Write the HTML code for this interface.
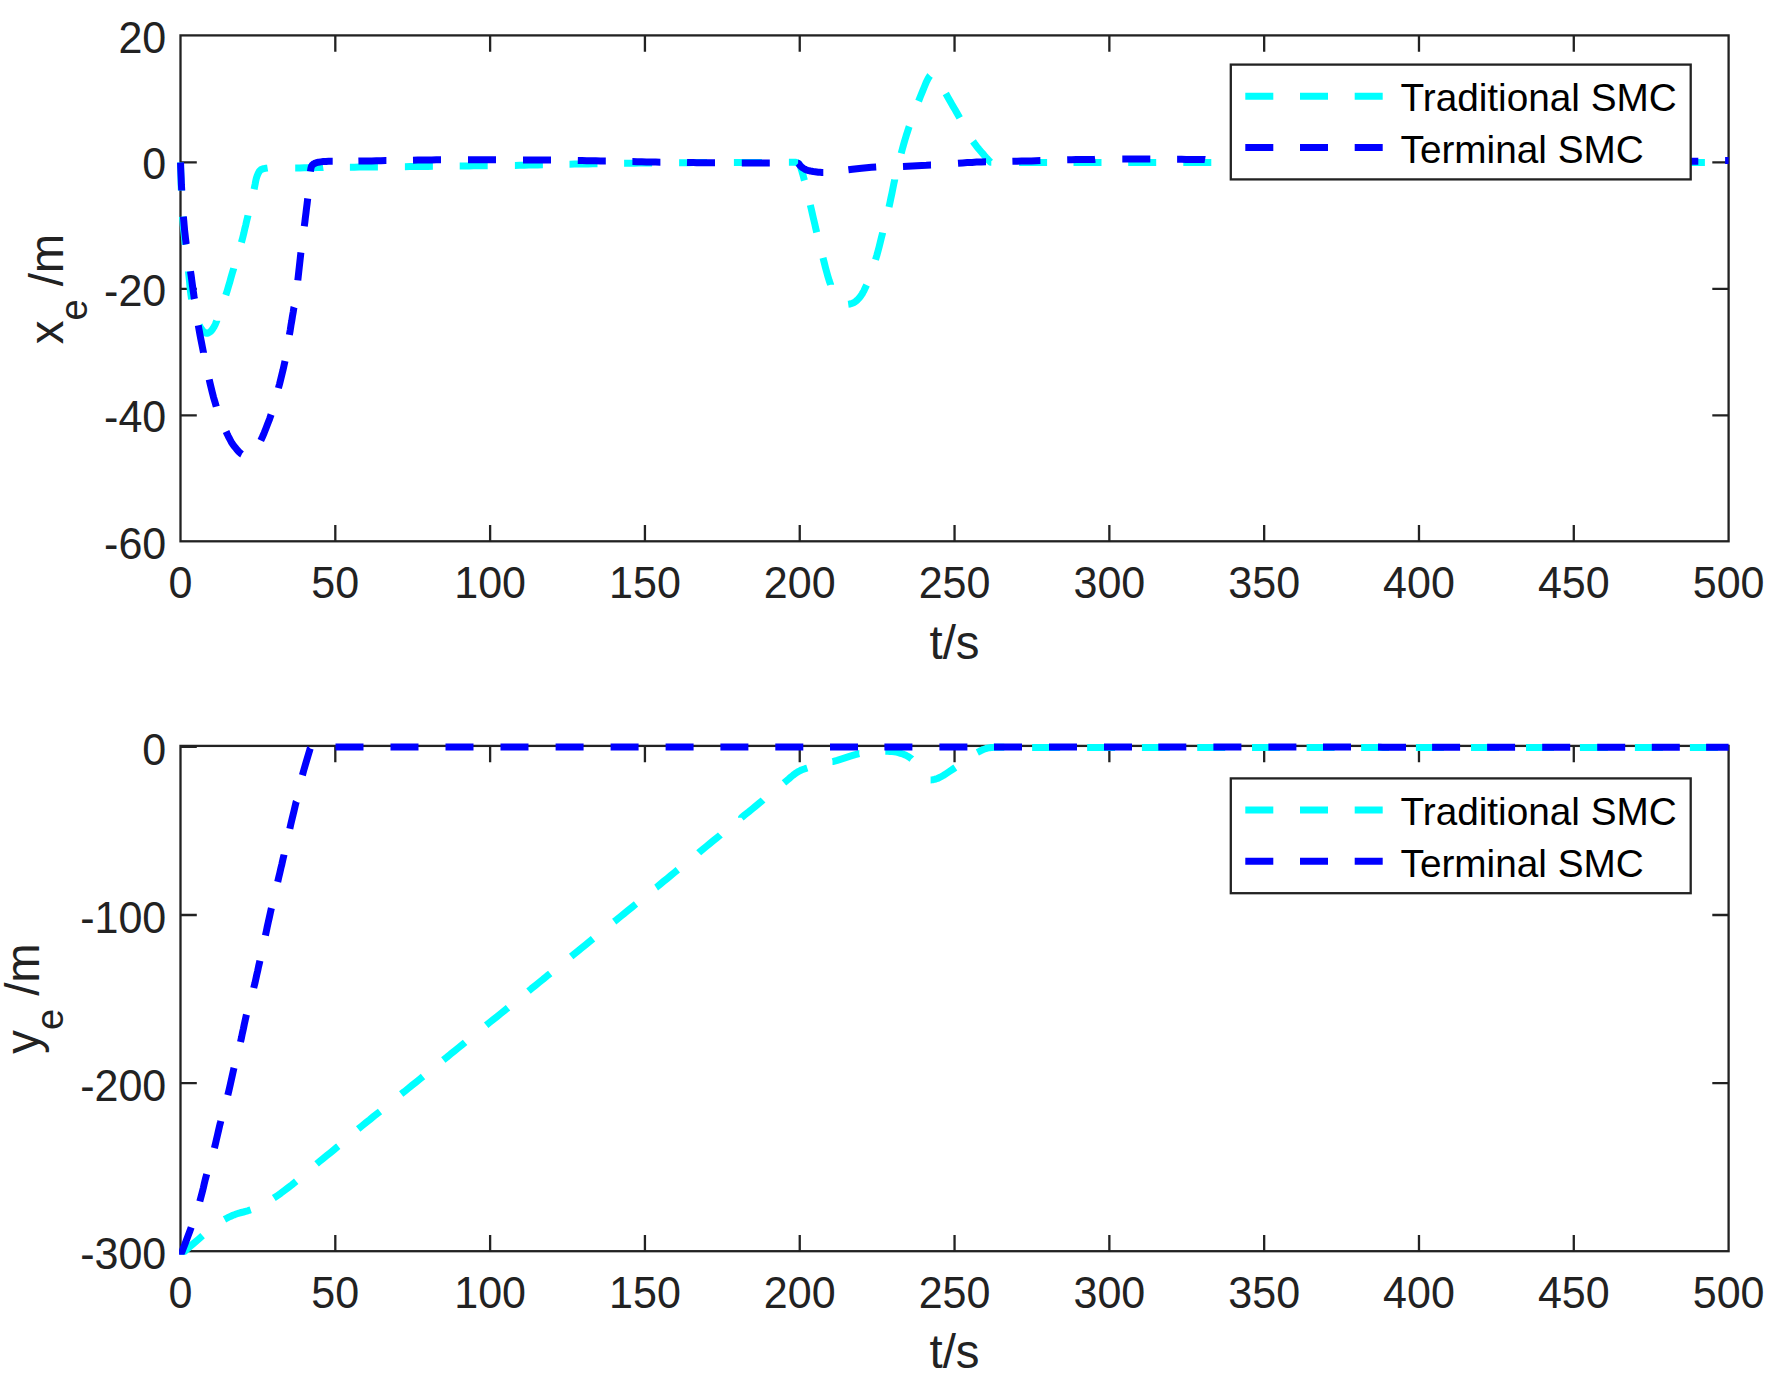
<!DOCTYPE html>
<html><head><meta charset="utf-8"><title>SMC tracking error</title>
<style>html,body{margin:0;padding:0;background:#fff}svg{display:block;font-family:"Liberation Sans",Arial,Helvetica,sans-serif}</style>
</head><body>
<svg width="1781" height="1387" viewBox="0 0 1781 1387">
<rect width="1781" height="1387" fill="#fff"/>
<g stroke="#222222" stroke-width="2.3" fill="none" stroke-linecap="butt">
<rect x="180.5" y="35.4" width="1548.10" height="505.90"/>
<path d="M335.31 541.3v-16.3M335.31 35.4v16.3M490.12 541.3v-16.3M490.12 35.4v16.3M644.93 541.3v-16.3M644.93 35.4v16.3M799.74 541.3v-16.3M799.74 35.4v16.3M954.55 541.3v-16.3M954.55 35.4v16.3M1109.36 541.3v-16.3M1109.36 35.4v16.3M1264.17 541.3v-16.3M1264.17 35.4v16.3M1418.98 541.3v-16.3M1418.98 35.4v16.3M1573.79 541.3v-16.3M1573.79 35.4v16.3M180.5 162.47h16.3M1728.6 162.47h-16.3M180.5 288.95h16.3M1728.6 288.95h-16.3M180.5 415.43h16.3M1728.6 415.43h-16.3"/>
</g>
<g fill="#222222" font-size="43.06px">
<text transform="translate(180.50 598.10) scale(1 1.045)" text-anchor="middle">0</text>
<text transform="translate(335.31 598.10) scale(1 1.045)" text-anchor="middle">50</text>
<text transform="translate(490.12 598.10) scale(1 1.045)" text-anchor="middle">100</text>
<text transform="translate(644.93 598.10) scale(1 1.045)" text-anchor="middle">150</text>
<text transform="translate(799.74 598.10) scale(1 1.045)" text-anchor="middle">200</text>
<text transform="translate(954.55 598.10) scale(1 1.045)" text-anchor="middle">250</text>
<text transform="translate(1109.36 598.10) scale(1 1.045)" text-anchor="middle">300</text>
<text transform="translate(1264.17 598.10) scale(1 1.045)" text-anchor="middle">350</text>
<text transform="translate(1418.98 598.10) scale(1 1.045)" text-anchor="middle">400</text>
<text transform="translate(1573.79 598.10) scale(1 1.045)" text-anchor="middle">450</text>
<text transform="translate(1728.60 598.10) scale(1 1.045)" text-anchor="middle">500</text>
<text transform="translate(166.3 53.00) scale(1 1.045)" text-anchor="end">20</text>
<text transform="translate(166.3 179.47) scale(1 1.045)" text-anchor="end">0</text>
<text transform="translate(166.3 305.95) scale(1 1.045)" text-anchor="end">-20</text>
<text transform="translate(166.3 432.43) scale(1 1.045)" text-anchor="end">-40</text>
<text transform="translate(166.3 558.90) scale(1 1.045)" text-anchor="end">-60</text>
</g>
<text x="954.5" y="658.50" text-anchor="middle" fill="#222222" font-size="47.4px">t/s</text>
<text transform="translate(62.8 289.0) rotate(-90)" text-anchor="middle" fill="#222222" font-size="47.4px">x<tspan dy="23.9" font-size="37.9px">e</tspan><tspan dy="-23.9"> /m</tspan></text>
<g stroke="#222222" stroke-width="2.3" fill="none" stroke-linecap="butt">
<rect x="180.5" y="745.9" width="1548.10" height="505.30"/>
<path d="M335.31 1251.2v-16.3M335.31 745.9v16.3M490.12 1251.2v-16.3M490.12 745.9v16.3M644.93 1251.2v-16.3M644.93 745.9v16.3M799.74 1251.2v-16.3M799.74 745.9v16.3M954.55 1251.2v-16.3M954.55 745.9v16.3M1109.36 1251.2v-16.3M1109.36 745.9v16.3M1264.17 1251.2v-16.3M1264.17 745.9v16.3M1418.98 1251.2v-16.3M1418.98 745.9v16.3M1573.79 1251.2v-16.3M1573.79 745.9v16.3M180.5 746.91h16.3M1728.6 746.91h-16.3M180.5 915.01h16.3M1728.6 915.01h-16.3M180.5 1083.10h16.3M1728.6 1083.10h-16.3"/>
</g>
<g fill="#222222" font-size="43.06px">
<text transform="translate(180.50 1308.00) scale(1 1.045)" text-anchor="middle">0</text>
<text transform="translate(335.31 1308.00) scale(1 1.045)" text-anchor="middle">50</text>
<text transform="translate(490.12 1308.00) scale(1 1.045)" text-anchor="middle">100</text>
<text transform="translate(644.93 1308.00) scale(1 1.045)" text-anchor="middle">150</text>
<text transform="translate(799.74 1308.00) scale(1 1.045)" text-anchor="middle">200</text>
<text transform="translate(954.55 1308.00) scale(1 1.045)" text-anchor="middle">250</text>
<text transform="translate(1109.36 1308.00) scale(1 1.045)" text-anchor="middle">300</text>
<text transform="translate(1264.17 1308.00) scale(1 1.045)" text-anchor="middle">350</text>
<text transform="translate(1418.98 1308.00) scale(1 1.045)" text-anchor="middle">400</text>
<text transform="translate(1573.79 1308.00) scale(1 1.045)" text-anchor="middle">450</text>
<text transform="translate(1728.60 1308.00) scale(1 1.045)" text-anchor="middle">500</text>
<text transform="translate(166.3 764.51) scale(1 1.045)" text-anchor="end">0</text>
<text transform="translate(166.3 932.61) scale(1 1.045)" text-anchor="end">-100</text>
<text transform="translate(166.3 1100.70) scale(1 1.045)" text-anchor="end">-200</text>
<text transform="translate(166.3 1268.80) scale(1 1.045)" text-anchor="end">-300</text>
</g>
<text x="954.5" y="1368.40" text-anchor="middle" fill="#222222" font-size="47.4px">t/s</text>
<text transform="translate(38.9 998.5) rotate(-90)" text-anchor="middle" fill="#222222" font-size="47.4px">y<tspan dy="23.9" font-size="37.9px">e</tspan><tspan dy="-23.9"> /m</tspan></text>
<defs><clipPath id="c1"><rect x="176.9" y="31.799999999999997" width="1552.50" height="513.10"/></clipPath><clipPath id="c2"><rect x="179.06" y="742.3" width="1550.34" height="512.40"/></clipPath></defs>
<path d="M180.5 162.4 L180.5 163.8 L180.6 167.4 L180.8 172.6 L180.9 178.5 L181.1 184.4 L181.3 189.5 L181.3 190.4M182.5 216.6 L182.5 216.6 L182.9 221.1 L183.3 225.7 L183.7 230.2 L184.2 234.7 L184.7 239.2 L185.2 243.8 L185.3 244.5M188.5 271.4 L188.5 271.7 L189.0 276.4 L189.5 281.2 L189.9 286.0 L190.4 290.7 L191.0 295.3 L191.6 299.2M199.3 325.3 L199.8 326.2 L200.5 327.5 L201.1 328.5 L201.8 329.4 L202.4 330.2 L203.1 331.0 L203.7 331.7 L204.4 332.2 L204.8 332.5 L205.3 332.8 L205.7 333.0 L206.1 333.2 L206.5 333.3 L207.0 333.3 L207.6 333.2 L208.2 333.0 L208.8 332.7 L209.4 332.3 L210.0 331.9 L210.5 331.5 L211.1 331.0 L211.6 330.4 L212.1 329.8 L212.6 329.1 L213.0 328.4 L213.5 327.6 L214.1 326.7 L214.6 325.7 L215.1 324.7 L215.6 323.6 L216.1 322.3 L216.7 320.9 L216.7 320.8M225.8 295.1 L227.2 290.7 L228.5 286.3 L229.8 281.9 L231.0 277.5 L232.3 273.1 L233.6 268.7 L233.7 268.2M241.4 242.5 L242.6 238.1 L243.7 233.7 L244.7 229.2 L245.8 224.8 L246.8 220.3 L247.9 215.9 L248.0 215.3M254.1 189.3 L254.6 186.8 L255.1 184.4 L255.5 182.2 L255.9 180.1 L256.4 178.1 L257.0 176.3 L257.5 175.0 L258.0 173.8 L258.6 172.6 L259.2 171.5 L259.9 170.6 L260.8 169.8 L262.1 169.2 L263.7 168.7 L265.4 168.3 L267.0 168.1 L267.6 168.0M295.2 167.9 L299.6 167.9 L304.1 167.8 L308.7 167.7 L313.3 167.7 L317.9 167.6 L322.5 167.6 L323.2 167.5M349.9 167.2 L350.0 167.2 L354.6 167.2 L359.2 167.1 L363.7 167.1 L368.3 167.0 L372.9 167.0 L377.5 166.9 L377.9 166.9M404.9 166.7 L405.0 166.7 L409.6 166.6 L414.2 166.6 L418.8 166.5 L423.3 166.5 L427.9 166.4 L432.5 166.3 L432.9 166.3M459.7 166.0 L460.0 166.0 L464.6 165.9 L469.2 165.9 L473.7 165.8 L478.3 165.8 L482.9 165.7 L487.5 165.7 L487.7 165.7M514.9 165.4 L515.0 165.4 L519.6 165.3 L524.2 165.2 L528.8 165.1 L533.3 165.0 L537.9 164.9 L542.5 164.8 L542.9 164.8M569.5 164.2 L570.0 164.2 L574.6 164.1 L579.2 164.0 L583.7 164.0 L588.3 163.9 L592.9 163.8 L597.5 163.8M624.1 163.3 L625.0 163.3 L629.6 163.2 L634.2 163.2 L638.7 163.1 L643.3 163.1 L647.9 163.0 L652.1 163.0M679.1 162.7 L680.0 162.7 L684.6 162.7 L689.2 162.7 L693.7 162.6 L698.3 162.6 L702.9 162.6 L707.1 162.6M733.9 162.5 L735.0 162.5 L739.5 162.5 L744.0 162.5 L748.5 162.4 L753.0 162.4 L757.5 162.4 L761.9 162.4M788.9 162.2 L789.0 162.2 L790.6 162.2 L792.2 162.2 L793.7 162.3 L794.9 162.3 L795.7 162.3 L796.0 162.3 L796.2 162.4 L796.7 162.6 L797.4 163.0 L798.2 163.4 L798.9 164.0 L799.5 164.5 L800.0 165.2 L800.3 166.1 L800.7 167.0 L800.9 168.0 L801.2 169.0 L801.5 170.0 L801.9 171.2 L802.2 172.4 L802.6 173.7 L803.0 175.0 L803.4 176.5 L803.8 178.2 L804.4 180.5M810.3 205.0 L811.4 209.5 L812.4 214.1 L813.5 218.7 L814.6 223.3 L815.6 227.8 L816.7 232.3M823.0 257.9 L824.2 262.5 L825.4 267.3 L826.7 272.1 L828.0 276.7 L829.3 281.0 L830.6 284.7 L830.6 284.8M848.2 304.3 L848.2 304.3 L849.6 304.1 L850.9 303.7 L852.3 303.2 L853.6 302.7 L854.8 302.0 L856.0 301.2 L857.1 300.2 L858.2 299.1 L859.2 297.9 L860.2 296.7 L861.1 295.4 L862.1 294.0 L862.9 292.5 L863.8 291.0 L864.6 289.3 L865.4 287.6 L866.3 285.6 L866.6 285.0M875.5 259.8 L876.8 255.5 L878.0 251.1 L879.2 246.6 L880.3 242.2 L881.4 237.7 L882.5 233.3 L882.6 232.7M889.0 207.0 L890.0 202.5 L890.9 198.0 L891.9 193.4 L892.8 188.9 L893.7 184.3 L894.7 179.8 L894.7 179.6M901.2 153.3 L902.4 148.9 L903.6 144.5 L904.9 140.1 L906.2 135.7 L907.6 131.4 L909.0 127.0 L909.2 126.5M918.6 101.1 L920.4 96.5 L922.4 91.6 L924.4 86.7 L926.3 82.1 L928.2 78.4 L929.8 75.8 L930.0 75.6M945.8 93.6 L948.0 97.4 L950.3 101.4 L952.6 105.6 L955.1 109.7 L957.5 113.9 L959.7 117.9M973.0 141.4 L975.0 144.2 L977.0 146.8 L979.0 149.3 L981.1 151.7 L983.0 153.9 L984.7 155.9 L985.9 157.3 L987.2 158.7 L988.4 160.0 L989.5 161.1 L990.2 161.9 L990.5 162.2 L991.3 162.2M1019.1 162.4 L1023.9 162.4 L1028.8 162.4 L1033.7 162.4 L1038.7 162.4 L1043.6 162.4 L1047.1 162.4M1073.5 162.4 L1078.1 162.4 L1083.1 162.4 L1088.0 162.4 L1092.9 162.4 L1097.8 162.4 L1101.5 162.4M1128.2 162.4 L1132.3 162.4 L1137.3 162.4 L1142.2 162.4 L1147.1 162.4 L1152.0 162.4 L1156.2 162.4M1183.3 162.4 L1186.5 162.4 L1191.5 162.4 L1196.4 162.4 L1201.3 162.4 L1206.3 162.4 L1211.2 162.4 L1211.3 162.4M1238.1 162.4 L1240.8 162.4 L1245.7 162.4 L1250.6 162.4 L1255.5 162.4 L1260.5 162.4 L1265.4 162.4 L1266.1 162.4M1293.0 162.4 L1295.0 162.4 L1299.9 162.4 L1304.8 162.4 L1309.7 162.4 L1314.7 162.4 L1319.6 162.4 L1321.0 162.4M1347.8 162.4 L1349.2 162.4 L1354.1 162.4 L1359.0 162.4 L1363.9 162.4 L1368.9 162.4 L1373.8 162.4 L1375.8 162.4M1402.7 162.4 L1403.4 162.4 L1408.3 162.4 L1413.2 162.4 L1418.1 162.4 L1423.1 162.4 L1428.0 162.4 L1430.7 162.4M1457.5 162.4 L1457.6 162.4 L1462.5 162.4 L1467.4 162.4 L1472.4 162.4 L1477.3 162.4 L1482.2 162.4 L1485.5 162.4M1512.4 162.4 L1516.7 162.4 L1521.6 162.4 L1526.6 162.4 L1531.5 162.4 L1536.4 162.4 L1540.4 162.4M1567.2 162.4 L1570.9 162.4 L1575.8 162.4 L1580.8 162.4 L1585.7 162.4 L1590.6 162.4 L1595.2 162.4M1622.1 162.4 L1625.1 162.4 L1630.0 162.4 L1635.0 162.4 L1639.9 162.4 L1644.8 162.4 L1649.8 162.4 L1650.1 162.4M1676.9 162.4 L1679.3 162.4 L1684.2 162.4 L1689.2 162.4 L1694.1 162.4 L1699.0 162.4 L1704.6 162.4 L1704.9 162.4" fill="none" stroke="#00ffff" stroke-width="7.0" stroke-linejoin="round" clip-path="url(#c1)"/>
<path d="M180.5 162.4 L180.6 163.8 L180.7 167.5 L180.9 172.7 L181.2 178.6 L181.4 184.5 L181.7 189.7 L181.7 190.4M183.4 216.6 L183.8 221.1 L184.2 225.7 L184.6 230.2 L185.1 234.7 L185.6 239.3 L186.2 243.8 L186.3 244.4M190.5 271.3 L191.2 275.9 L191.8 280.4 L192.4 285.0 L193.0 289.5 L193.7 294.1 L194.3 298.6 L194.4 299.0M198.3 325.3 L198.3 325.3 L199.1 329.8 L199.9 334.4 L200.8 339.0 L201.7 343.5 L202.6 348.1 L203.5 352.6 L203.5 352.8M209.2 379.5 L210.2 383.9 L211.3 388.4 L212.4 392.8 L213.5 397.2 L214.8 401.6 L216.1 405.9 L216.3 406.6M226.1 431.5 L227.2 434.0 L228.3 436.3 L229.4 438.4 L230.5 440.5 L231.6 442.5 L232.9 444.4 L234.2 446.3 L235.7 448.1 L237.2 449.9 L238.7 451.6 L240.2 453.0 L241.6 454.2 L241.8 454.3M260.8 440.5 L262.4 437.0 L264.2 432.8 L266.0 428.3 L267.8 423.6 L269.6 418.9 L271.1 414.5M278.4 388.2 L279.6 383.8 L280.7 379.3 L281.8 374.8 L282.9 370.4 L283.9 365.9 L284.9 361.4 L285.0 361.0M289.4 334.8 L290.2 330.3 L290.9 325.7 L291.7 321.2 L292.4 316.6 L293.2 312.1 L293.9 307.5 L294.0 307.2M297.8 280.4 L298.3 275.9 L298.8 271.4 L299.3 266.8 L299.8 262.3 L300.3 257.8 L300.8 253.3 L300.9 252.6M304.3 226.3 L304.3 226.3 L304.9 221.8 L305.4 217.3 L306.0 212.8 L306.5 208.3 L307.1 203.8 L307.6 199.3 L307.7 198.5M310.4 171.5 L310.6 170.2 L310.8 169.0 L311.0 167.9 L311.3 166.9 L311.6 166.1 L312.1 165.3 L312.7 164.7 L313.3 164.2 L314.0 163.7 L314.8 163.4 L315.6 163.0 L316.6 162.7 L318.5 162.2 L320.8 161.9 L323.3 161.6 L325.9 161.5 L328.7 161.3 L331.6 161.2 L332.7 161.2M358.4 161.1 L362.6 161.0 L367.1 161.0 L371.7 160.9 L376.3 160.8 L380.9 160.7 L385.5 160.6 L386.4 160.6M413.0 160.2 L417.7 160.1 L422.3 160.0 L427.0 160.0 L431.7 159.9 L436.3 159.8 L441.0 159.8M468.0 159.8 L468.5 159.8 L473.1 159.8 L477.7 159.8 L482.3 159.8 L486.9 159.8 L491.4 159.8 L496.0 159.8M523.0 159.9 L523.0 159.9 L527.5 159.9 L532.0 159.9 L536.5 159.9 L541.0 159.9 L545.5 160.0 L550.0 160.0 L551.0 160.0M577.8 160.5 L582.1 160.6 L586.7 160.7 L591.3 160.7 L595.8 160.8 L600.4 160.9 L605.0 161.0 L605.8 161.0M632.4 161.6 L632.5 161.6 L637.1 161.7 L641.8 161.8 L646.5 161.9 L651.2 162.0 L655.7 162.1 L660.0 162.2 L660.4 162.2M687.0 162.5 L689.9 162.6 L693.2 162.6 L696.6 162.7 L700.0 162.7 L703.8 162.7 L707.6 162.8 L711.6 162.8 L715.0 162.8M741.8 162.9 L742.8 162.9 L746.7 163.0 L750.6 163.0 L754.5 163.0 L758.4 163.1 L762.3 163.1 L766.2 163.1 L769.8 163.1M798.1 163.2 L798.2 163.2 L798.8 163.8 L799.3 164.5 L799.8 165.2 L800.4 165.9 L801.0 166.5 L801.7 167.1 L802.4 167.6 L803.1 168.1 L803.9 168.6 L804.7 169.1 L805.5 169.5 L806.5 169.9 L807.5 170.3 L808.6 170.6 L809.7 170.8 L810.8 171.1 L812.0 171.3 L813.5 171.6 L815.1 171.8 L816.7 172.0 L818.4 172.2 L820.1 172.3 L821.9 172.4 L823.3 172.4M848.4 169.7 L852.4 169.2 L856.9 168.7 L861.6 168.2 L866.6 167.7 L871.5 167.3 L876.2 167.0 L876.2 167.0M903.0 166.4 L907.6 166.2 L912.3 166.0 L916.9 165.8 L921.6 165.5 L926.3 165.3 L930.9 165.0 L931.0 165.0M958.0 163.2 L962.6 162.9 L967.3 162.6 L972.0 162.4 L976.6 162.1 L981.3 161.9 L985.9 161.7 L986.0 161.7M1012.4 161.3 L1017.0 161.2 L1021.7 161.1 L1026.5 161.0 L1031.2 160.9 L1035.9 160.7 L1040.4 160.6M1067.2 159.8 L1071.6 159.7 L1076.1 159.6 L1080.7 159.6 L1085.3 159.5 L1089.9 159.4 L1094.5 159.4 L1095.2 159.3M1122.3 158.9 L1126.6 158.9 L1131.2 158.9 L1135.7 159.0 L1140.3 159.0 L1144.9 159.1 L1149.5 159.1 L1150.3 159.1M1177.1 159.3 L1181.6 159.3 L1186.2 159.4 L1190.7 159.4 L1195.3 159.4 L1199.9 159.4 L1204.5 159.4 L1205.1 159.5M1231.9 159.6 L1232.0 159.6 L1236.7 159.6 L1241.3 159.6 L1246.0 159.7 L1250.7 159.7 L1255.3 159.7 L1259.9 159.7M1286.7 159.8 L1288.0 159.8 L1292.7 159.9 L1297.3 159.9 L1302.0 159.9 L1306.7 159.9 L1311.3 159.9 L1314.7 159.9M1341.5 160.1 L1344.0 160.1 L1348.7 160.1 L1353.3 160.1 L1358.0 160.1 L1362.7 160.1 L1367.3 160.2 L1369.5 160.2M1396.3 160.3 L1400.0 160.3 L1404.7 160.3 L1409.5 160.3 L1414.3 160.4 L1419.0 160.4 L1423.8 160.4 L1424.3 160.4M1451.1 160.5 L1452.4 160.5 L1457.1 160.5 L1461.9 160.5 L1466.7 160.5 L1471.4 160.6 L1476.2 160.6 L1479.1 160.6M1505.9 160.7 L1509.5 160.7 L1514.3 160.7 L1519.0 160.7 L1523.8 160.7 L1528.6 160.8 L1533.3 160.8 L1533.9 160.8M1560.7 160.9 L1561.9 160.9 L1566.7 160.9 L1571.4 160.9 L1576.2 160.9 L1581.0 160.9 L1585.9 161.0 L1588.7 161.0M1615.5 161.0 L1616.4 161.0 L1620.4 161.0 L1624.5 161.1 L1628.6 161.1 L1632.7 161.1 L1636.7 161.1 L1640.8 161.1 L1643.5 161.1M1670.3 161.1 L1673.5 161.1 L1677.6 161.2 L1681.9 161.2 L1686.1 161.2 L1690.3 161.2 L1694.2 161.2 L1698.0 161.2 L1698.3 161.2M1725.1 160.5 L1725.8 160.5 L1727.8 160.4 L1728.6 160.4" fill="none" stroke="#0000ff" stroke-width="7.0" stroke-linejoin="round" clip-path="url(#c1)"/>
<path d="M180.5 1255.2 L181.6 1254.2 L184.6 1251.5 L188.7 1247.7 L193.5 1243.5 L198.4 1239.3 L202.6 1235.7 L202.6 1235.7M224.5 1219.4 L224.5 1219.4 L226.7 1218.2 L228.8 1217.1 L230.9 1216.2 L232.9 1215.3 L234.9 1214.6 L237.0 1213.8 L239.1 1213.1 L241.3 1212.5 L243.4 1212.0 L245.6 1211.4 L247.7 1210.8 L249.8 1210.1 L250.7 1209.8M273.8 1198.0 L277.1 1195.8 L280.7 1193.3 L284.4 1190.5 L288.2 1187.6 L292.0 1184.7 L295.6 1181.8 L296.2 1181.3M316.6 1163.9 L319.6 1161.4 L323.2 1158.5 L326.8 1155.6 L330.4 1152.7 L334.0 1149.7 L337.5 1146.8 L338.3 1146.2M358.2 1129.0 L362.0 1125.9 L365.8 1122.8 L369.7 1119.7 L373.5 1116.5 L377.4 1113.4 L380.0 1111.4M401.2 1094.1 L404.4 1091.6 L408.3 1088.4 L412.1 1085.3 L416.0 1082.2 L419.8 1079.1 L423.0 1076.5M443.3 1060.1 L446.8 1057.3 L450.6 1054.1 L454.5 1051.0 L458.3 1047.9 L462.2 1044.8 L465.1 1042.4M486.2 1025.3 L489.1 1022.9 L493.0 1019.8 L496.9 1016.7 L500.7 1013.6 L504.6 1010.5 L508.0 1007.7M528.5 991.1 L531.5 988.6 L535.4 985.5 L539.2 982.4 L543.1 979.3 L546.9 976.1 L550.2 973.5M571.2 956.5 L573.9 954.3 L577.7 951.2 L581.6 948.1 L585.4 945.0 L589.3 941.8 L593.0 938.8M614.2 921.6 L616.3 920.0 L620.1 916.9 L624.0 913.7 L627.9 910.6 L631.7 907.5 L635.5 904.4 L636.0 904.0M656.1 887.5 L656.7 887.1 L660.2 884.2 L663.7 881.3 L667.3 878.4 L670.8 875.5 L674.3 872.6 L677.8 869.8M698.7 852.7 L699.0 852.4 L702.6 849.5 L706.1 846.6 L709.6 843.7 L713.2 840.8 L716.7 838.0 L720.2 835.1 L720.4 834.9M741.4 817.8 L741.4 817.7 L744.9 814.8 L748.5 812.0 L752.0 809.1 L755.5 806.2 L759.1 803.3 L762.6 800.4 L763.0 800.0M784.0 782.9 L786.4 780.9 L788.8 778.9 L791.0 776.9 L793.2 775.1 L795.3 773.5 L797.4 772.1 L798.8 771.3 L800.2 770.6 L801.4 770.0 L802.8 769.5 L804.3 769.0 L806.0 768.4 L807.3 768.0M832.5 761.6 L832.7 761.6 L837.2 760.3 L841.9 758.8 L846.5 757.3 L851.1 755.9 L855.3 754.6 L859.2 753.6 L859.3 753.6M885.3 751.2 L885.5 751.2 L887.7 751.3 L889.9 751.4 L892.1 751.5 L894.2 751.7 L896.4 752.1 L898.5 752.6 L900.7 753.3 L902.9 754.0 L905.1 754.9 L907.2 756.0 L909.4 757.3 L911.6 758.8 L911.7 758.9M930.6 779.9 L931.3 779.9 L932.7 779.7 L934.3 779.4 L935.9 779.0 L937.5 778.5 L940.2 777.2 L943.3 775.5 L946.6 773.4 L949.9 771.2 L953.1 769.0 L955.3 767.5M977.3 752.4 L977.5 752.3 L978.9 751.6 L980.4 750.8 L981.8 750.2 L983.2 749.5 L984.7 749.0 L986.1 748.5 L987.4 748.2 L988.6 747.9 L989.9 747.7 L991.2 747.5 L992.6 747.4 L994.1 747.3 L996.8 747.2 L999.8 747.2 L1003.1 747.2 L1004.3 747.2M1032.1 747.5 L1036.5 747.5 L1041.2 747.5 L1046.1 747.5 L1051.1 747.5 L1056.1 747.5 L1060.1 747.5M1087.1 747.5 L1090.0 747.5 L1094.9 747.5 L1099.7 747.5 L1104.6 747.5 L1109.4 747.5 L1114.2 747.5 L1115.1 747.5M1141.9 747.5 L1143.3 747.5 L1148.1 747.5 L1152.9 747.5 L1157.8 747.5 L1162.6 747.5 L1167.5 747.5 L1169.9 747.5M1197.2 747.5 L1201.3 747.5 L1206.2 747.5 L1211.0 747.5 L1215.8 747.5 L1220.7 747.5 L1225.2 747.5M1252.0 747.5 L1254.5 747.5 L1259.4 747.5 L1264.2 747.5 L1269.0 747.5 L1273.9 747.5 L1278.7 747.5 L1280.0 747.5M1306.6 747.5 L1307.7 747.5 L1312.6 747.5 L1317.4 747.5 L1322.2 747.5 L1327.1 747.5 L1331.9 747.5 L1334.6 747.5M1361.1 747.5 L1365.8 747.5 L1370.6 747.5 L1375.5 747.5 L1380.3 747.5 L1385.1 747.5 L1389.1 747.5M1415.9 747.5 L1419.0 747.5 L1423.8 747.5 L1428.7 747.5 L1433.5 747.5 L1438.3 747.5 L1443.2 747.5 L1443.9 747.5M1471.0 747.5 L1472.2 747.5 L1477.1 747.5 L1481.9 747.5 L1486.7 747.5 L1491.6 747.5 L1496.4 747.5 L1499.0 747.5M1526.0 747.5 L1530.3 747.5 L1535.1 747.5 L1539.9 747.5 L1544.8 747.5 L1549.6 747.5 L1554.0 747.5M1579.9 747.5 L1583.5 747.5 L1588.3 747.5 L1593.2 747.5 L1598.0 747.5 L1602.8 747.5 L1607.7 747.5 L1607.9 747.5M1634.9 747.5 L1636.7 747.5 L1641.5 747.5 L1646.4 747.5 L1651.2 747.5 L1656.0 747.5 L1660.9 747.5 L1662.9 747.5M1689.9 747.5 L1694.7 747.5 L1699.6 747.5 L1705.1 747.5 L1711.4 747.5 L1717.7 747.5 L1717.9 747.5" fill="none" stroke="#00ffff" stroke-width="7.0" stroke-linejoin="round" clip-path="url(#c2)"/>
<path d="M180.5 1255.8 L180.6 1255.6 L180.7 1255.1 L181.0 1254.4 L181.3 1253.5 L181.7 1252.4 L182.1 1251.4 L183.2 1248.5 L184.6 1244.9 L186.2 1240.7 L187.9 1236.2 L189.6 1231.7 L191.2 1227.4M199.8 1201.3 L199.8 1201.3 L201.0 1196.9 L202.2 1192.4 L203.3 1188.0 L204.3 1183.5 L205.4 1179.0 L206.6 1174.6 L206.7 1174.2M214.4 1148.1 L214.4 1148.1 L215.5 1143.7 L216.5 1139.3 L217.5 1135.0 L218.5 1130.6 L219.5 1126.2 L220.6 1121.8 L220.8 1120.9M227.8 1095.2 L228.9 1090.7 L229.9 1086.2 L230.9 1081.7 L231.9 1077.2 L232.9 1072.8 L233.9 1068.3 L234.0 1067.9M240.5 1042.0 L241.5 1037.6 L242.4 1033.1 L243.4 1028.7 L244.3 1024.2 L245.3 1019.8 L246.3 1015.3 L246.5 1014.6M253.7 988.0 L254.8 983.7 L255.8 979.3 L256.7 975.0 L257.7 970.7 L258.6 966.4 L259.6 962.1 L259.9 960.7M265.4 935.5 L266.4 931.0 L267.3 926.5 L268.3 922.0 L269.3 917.6 L270.3 913.1 L271.3 908.6 L271.4 908.2M277.7 881.9 L278.7 877.5 L279.8 873.0 L280.8 868.5 L281.9 864.1 L282.9 859.6 L283.9 855.2 L284.0 854.6M289.8 828.7 L290.8 824.2 L291.9 819.7 L293.0 815.2 L294.1 810.7 L295.1 806.2 L296.2 801.7 L296.3 801.5M302.4 775.2 L303.8 770.1 L305.5 764.3 L307.2 758.5 L308.7 753.4 L309.8 749.9 L310.2 748.5 L310.2 748.5 L310.3 748.4 L310.3 748.4M335.5 747.0 L340.2 747.0 L345.1 747.0 L350.1 747.0 L355.1 747.0 L360.2 747.0 L363.5 747.0M390.5 747.0 L394.8 747.0 L399.7 747.0 L404.7 747.0 L409.6 747.0 L414.5 747.0 L418.5 747.0M445.5 747.0 L449.1 747.0 L454.1 747.0 L459.0 747.0 L463.9 747.0 L468.9 747.0 L473.5 747.0M500.5 747.0 L503.5 747.0 L508.4 747.0 L513.3 747.0 L518.3 747.0 L523.2 747.0 L528.2 747.0 L528.5 747.0M555.6 747.0 L557.8 747.0 L562.7 747.0 L567.7 747.0 L572.6 747.0 L577.6 747.0 L582.5 747.0 L583.6 747.0M610.6 747.0 L612.1 747.0 L617.1 747.0 L622.0 747.0 L627.0 747.0 L631.9 747.0 L636.8 747.0 L638.6 747.0M665.6 747.0 L666.5 747.0 L671.4 747.0 L676.4 747.0 L681.3 747.0 L686.2 747.1 L691.2 747.1 L693.6 747.1M720.4 747.1 L720.8 747.1 L725.8 747.1 L730.7 747.1 L735.6 747.1 L740.6 747.1 L745.5 747.1 L748.4 747.1M775.3 747.1 L780.1 747.1 L785.0 747.1 L790.0 747.1 L794.9 747.1 L799.9 747.1 L803.3 747.1M830.0 747.1 L834.4 747.1 L839.4 747.1 L844.3 747.1 L849.3 747.1 L854.2 747.1 L858.0 747.1M884.4 747.1 L888.8 747.1 L893.7 747.1 L898.7 747.1 L903.6 747.1 L908.5 747.1 L912.4 747.1M939.4 747.1 L943.1 747.1 L948.1 747.1 L953.0 747.1 L957.9 747.1 L962.9 747.1 L967.4 747.1M994.0 747.1 L997.5 747.1 L1002.4 747.1 L1007.3 747.1 L1012.3 747.1 L1017.2 747.1 L1022.0 747.1M1049.0 747.1 L1051.8 747.1 L1056.8 747.1 L1061.7 747.1 L1066.6 747.1 L1071.6 747.1 L1076.5 747.1 L1077.0 747.1M1104.0 747.1 L1106.2 747.1 L1111.1 747.1 L1116.0 747.1 L1121.0 747.1 L1125.9 747.1 L1130.9 747.1 L1132.0 747.1M1158.3 747.1 L1160.5 747.1 L1165.4 747.1 L1170.4 747.1 L1175.3 747.1 L1180.3 747.1 L1185.2 747.1 L1186.3 747.1M1213.4 747.1 L1214.8 747.1 L1219.8 747.1 L1224.7 747.1 L1229.7 747.1 L1234.6 747.1 L1239.5 747.1 L1241.4 747.1M1268.4 747.1 L1269.2 747.1 L1274.1 747.1 L1279.1 747.1 L1284.0 747.1 L1288.9 747.1 L1293.9 747.1 L1296.4 747.1M1323.0 747.1 L1323.5 747.1 L1328.5 747.1 L1333.4 747.1 L1338.3 747.1 L1343.3 747.1 L1348.2 747.1 L1351.0 747.1M1378.0 747.1 L1382.8 747.2 L1387.7 747.2 L1392.7 747.2 L1397.6 747.2 L1402.6 747.2 L1406.0 747.2M1432.1 747.2 L1432.2 747.2 L1437.1 747.2 L1442.1 747.2 L1447.0 747.2 L1452.0 747.2 L1456.9 747.2 L1460.1 747.2M1487.1 747.2 L1491.5 747.2 L1496.4 747.2 L1501.4 747.2 L1506.3 747.2 L1511.2 747.2 L1515.1 747.2M1542.2 747.2 L1545.8 747.2 L1550.8 747.2 L1555.7 747.2 L1560.6 747.2 L1565.6 747.2 L1570.2 747.2M1597.2 747.2 L1600.2 747.2 L1605.1 747.2 L1610.0 747.2 L1615.0 747.2 L1619.9 747.2 L1624.9 747.2 L1625.2 747.2M1651.8 747.2 L1654.5 747.2 L1659.4 747.2 L1664.4 747.2 L1669.3 747.2 L1674.3 747.2 L1679.2 747.2 L1679.8 747.2M1706.1 747.2 L1711.0 747.2 L1717.5 747.2 L1723.1 747.2 L1727.1 747.2 L1728.6 747.2" fill="none" stroke="#0000ff" stroke-width="7.0" stroke-linejoin="round" clip-path="url(#c2)"/>
<rect x="1230.8" y="64.6" width="459.9" height="114.8" fill="#fff" stroke="#222222" stroke-width="2.3"/>
<path d="M1245.3 96.3H1384" stroke="#00ffff" stroke-width="7.0" stroke-dasharray="28 26.7" fill="none"/>
<text x="1400.5" y="110.8" fill="#000" font-size="38.75px">Traditional SMC</text>
<path d="M1245.3 147.5H1384" stroke="#0000ff" stroke-width="7.0" stroke-dasharray="28 26.7" fill="none"/>
<text x="1400.5" y="162.8" fill="#000" font-size="38.75px">Terminal SMC</text>
<rect x="1230.8" y="778.4" width="459.9" height="114.8" fill="#fff" stroke="#222222" stroke-width="2.3"/>
<path d="M1245.3 810.1H1384" stroke="#00ffff" stroke-width="7.0" stroke-dasharray="28 26.7" fill="none"/>
<text x="1400.5" y="824.6" fill="#000" font-size="38.75px">Traditional SMC</text>
<path d="M1245.3 861.3H1384" stroke="#0000ff" stroke-width="7.0" stroke-dasharray="28 26.7" fill="none"/>
<text x="1400.5" y="876.6" fill="#000" font-size="38.75px">Terminal SMC</text>
</svg>
</body></html>
